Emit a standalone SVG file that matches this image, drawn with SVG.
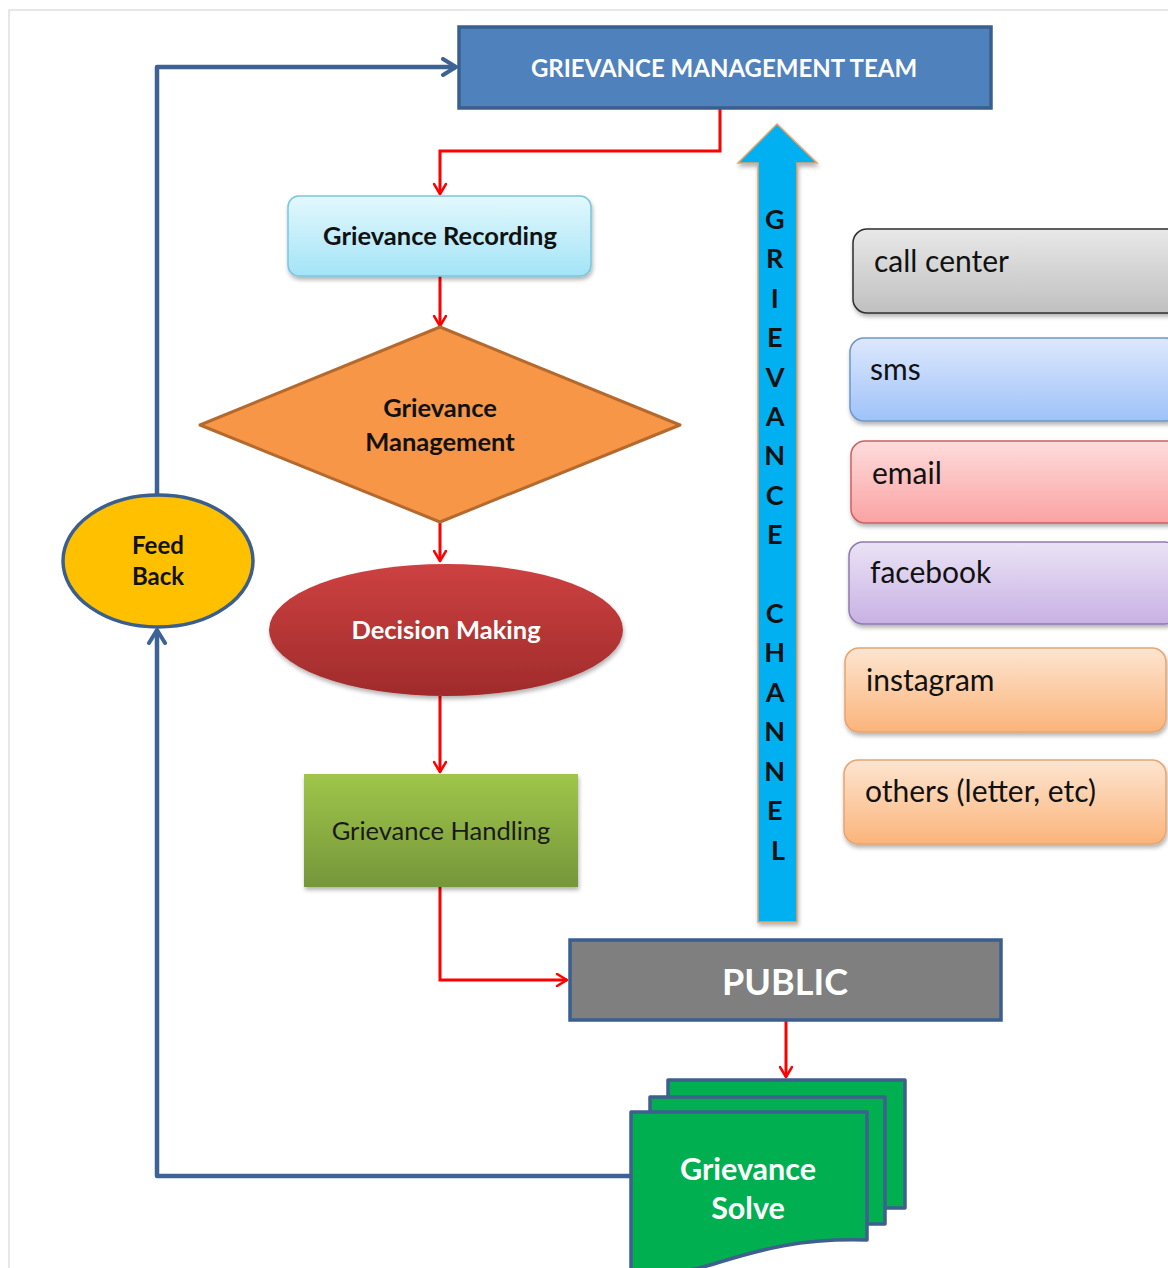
<svg xmlns="http://www.w3.org/2000/svg" width="1168" height="1268" viewBox="0 0 1168 1268">
  <defs>
    <linearGradient id="gRec" x1="0" y1="0" x2="0" y2="1">
      <stop offset="0" stop-color="#e3f8fd"/>
      <stop offset="1" stop-color="#a3e4f7"/>
    </linearGradient>
    <linearGradient id="gDec" x1="0" y1="0" x2="0" y2="1">
      <stop offset="0" stop-color="#cd4141"/>
      <stop offset="1" stop-color="#a02b2b"/>
    </linearGradient>
    <linearGradient id="gHand" x1="0" y1="0" x2="0" y2="1">
      <stop offset="0" stop-color="#9fc64a"/>
      <stop offset="1" stop-color="#76963a"/>
    </linearGradient>
    <linearGradient id="gCall" x1="0" y1="0" x2="0" y2="1">
      <stop offset="0" stop-color="#e8e8e8"/>
      <stop offset="1" stop-color="#c0c0c0"/>
    </linearGradient>
    <linearGradient id="gSms" x1="0" y1="0" x2="0" y2="1">
      <stop offset="0" stop-color="#dde8fc"/>
      <stop offset="1" stop-color="#9ec2f9"/>
    </linearGradient>
    <linearGradient id="gMail" x1="0" y1="0" x2="0" y2="1">
      <stop offset="0" stop-color="#fddcdc"/>
      <stop offset="1" stop-color="#fba2a2"/>
    </linearGradient>
    <linearGradient id="gFb" x1="0" y1="0" x2="0" y2="1">
      <stop offset="0" stop-color="#ebe3f5"/>
      <stop offset="1" stop-color="#c8b1e4"/>
    </linearGradient>
    <linearGradient id="gOr" x1="0" y1="0" x2="0" y2="1">
      <stop offset="0" stop-color="#fde5d0"/>
      <stop offset="1" stop-color="#fbb47a"/>
    </linearGradient>
    <filter id="shadow" x="-10%" y="-10%" width="130%" height="140%">
      <feDropShadow dx="1" dy="3" stdDeviation="2" flood-color="#000" flood-opacity="0.3"/>
    </filter>
    <marker id="arrRed" viewBox="0 0 14 14" refX="12" refY="7" markerWidth="14" markerHeight="14" markerUnits="userSpaceOnUse" orient="auto">
      <path d="M2,1 L12,7 L2,13" fill="none" stroke="#ff0000" stroke-width="2.5" stroke-linecap="round" stroke-linejoin="round"/>
    </marker>
    <marker id="arrBlue" viewBox="0 0 20 20" refX="17" refY="10" markerWidth="20" markerHeight="20" markerUnits="userSpaceOnUse" orient="auto">
      <path d="M4,2 L17,10 L4,18" fill="none" stroke="#3d6396" stroke-width="4" stroke-linecap="round" stroke-linejoin="round"/>
    </marker>
  </defs>
  <style>
    text { font-family: Lato, "Open Sans", "Liberation Sans", sans-serif; }
    .bold { font-weight: bold; }
    .red { fill: none; stroke: #ff0000; stroke-width: 3; }
    .blue { fill: none; stroke: #3d6396; stroke-width: 4.5; stroke-linejoin: round; }
    .chan { stroke-width: 1.5; filter: url(#shadow); }
    .chanTxt { font-size: 30px; fill: #111; }
    .doc { fill: #00b050; stroke: #3f5f8f; stroke-width: 3.5; stroke-linejoin: round; }
  </style>

  <rect width="1168" height="1268" fill="#ffffff"/>
  <!-- page frame -->
  <path d="M9,1268 V10 H1168" fill="none" stroke="#e0e0e0" stroke-width="1.5"/>

  <!-- connectors -->
  <g id="connectors">
    <path class="red" d="M720,108 V151 H440 V194" marker-end="url(#arrRed)"/>
    <path class="red" d="M440,276 V326" marker-end="url(#arrRed)"/>
    <path class="red" d="M440,522 V561" marker-end="url(#arrRed)"/>
    <path class="red" d="M440,696 V772" marker-end="url(#arrRed)"/>
    <path class="red" d="M440,887 V980 H567" marker-end="url(#arrRed)"/>
    <path class="red" d="M786,1020 V1077" marker-end="url(#arrRed)"/>
    <path class="blue" d="M632,1176 H157 V630" marker-end="url(#arrBlue)"/>
    <path class="blue" d="M157,495 V67 H456" marker-end="url(#arrBlue)"/>
  </g>

  <!-- management team -->
  <g id="team">
    <rect x="459" y="27" width="532" height="81" fill="#4f81bd" stroke="#3a5f8f" stroke-width="3.5"/>
    <text x="724" y="77" text-anchor="middle" class="bold" font-size="24" fill="#fff">GRIEVANCE MANAGEMENT TEAM</text>
  </g>

  <!-- recording -->
  <g id="recording">
    <rect x="288" y="196" width="303" height="80" rx="11" fill="url(#gRec)" stroke="#79c6dd" stroke-width="1.5" filter="url(#shadow)"/>
    <text x="440" y="245" text-anchor="middle" class="bold" font-size="25.5" fill="#111">Grievance Recording</text>
  </g>

  <!-- management decision -->
  <g id="management">
    <polygon points="440,327 680,425 440,522 200,425" fill="#f79646" stroke="#b46a2e" stroke-width="3" stroke-linejoin="round"/>
    <text x="440" y="417" text-anchor="middle" class="bold" font-size="25.5" fill="#111">Grievance</text>
    <text x="440" y="451" text-anchor="middle" class="bold" font-size="25.5" fill="#111">Management</text>
  </g>

  <!-- decision making -->
  <g id="decision">
    <ellipse cx="446" cy="630" rx="177" ry="66" fill="url(#gDec)" filter="url(#shadow)"/>
    <text x="446" y="639" text-anchor="middle" class="bold" font-size="25.5" fill="#fff">Decision Making</text>
  </g>

  <!-- handling -->
  <g id="handling">
    <rect x="304" y="774" width="274" height="113" fill="url(#gHand)" filter="url(#shadow)"/>
    <text x="441" y="840" text-anchor="middle" font-size="25.5" fill="#1a1a1a">Grievance Handling</text>
  </g>

  <!-- public -->
  <g id="public">
    <rect x="570" y="940" width="431" height="80" fill="#7f7f7f" stroke="#3a5f8f" stroke-width="3.5"/>
    <text x="785" y="995" text-anchor="middle" class="bold" font-size="36" fill="#fff">PUBLIC</text>
  </g>

  <!-- grievance solve (multi document) -->
  <g id="solve">
    <rect class="doc" x="668" y="1080" width="237" height="128"/>
    <rect class="doc" x="650" y="1097" width="235" height="127"/>
    <path class="doc" d="M631,1112 H867 V1240 C800,1238 760,1250 720,1262 C690,1272 660,1276 631,1272 Z"/>
    <text x="748" y="1180" text-anchor="middle" class="bold" font-size="30.5" fill="#fff">Grievance</text>
    <text x="748" y="1219" text-anchor="middle" class="bold" font-size="30.5" fill="#fff">Solve</text>
  </g>

  <!-- feedback -->
  <g id="feedback">
    <ellipse cx="158" cy="561" rx="95" ry="66" fill="#ffc000" stroke="#3a5f8f" stroke-width="3.5"/>
    <text x="158" y="554" text-anchor="middle" class="bold" font-size="24" fill="#111">Feed</text>
    <text x="158" y="585" text-anchor="middle" class="bold" font-size="24" fill="#111">Back</text>
  </g>

  <!-- grievance channel arrow -->
  <g id="channel">
    <path d="M777,124 L817,163 H797 V922 H758 V163 H738 Z" fill="#00b0f0" stroke="#e8a36a" stroke-width="1.5" stroke-linejoin="miter" filter="url(#shadow)"/>
    <text text-anchor="middle" class="bold" font-size="27" fill="#111">
      <tspan x="778" y="229">G</tspan>
      <tspan x="778" y="268">R</tspan>
      <tspan x="778" y="308">I</tspan>
      <tspan x="778" y="347">E</tspan>
      <tspan x="778" y="387">V</tspan>
      <tspan x="778" y="426">A</tspan>
      <tspan x="778" y="465">N</tspan>
      <tspan x="778" y="505">C</tspan>
      <tspan x="778" y="544">E</tspan>
      <tspan x="778" y="623">C</tspan>
      <tspan x="778" y="662">H</tspan>
      <tspan x="778" y="702">A</tspan>
      <tspan x="778" y="741">N</tspan>
      <tspan x="778" y="781">N</tspan>
      <tspan x="778" y="820">E</tspan>
      <tspan x="778" y="860">L</tspan>
    </text>
  </g>

  <!-- channel list -->
  <g id="call-center">
    <rect class="chan" x="853" y="229" width="330" height="84" rx="14" fill="url(#gCall)" stroke="#2e2e2e"/>
    <text class="chanTxt" x="874" y="272">call center</text>
  </g>
  <g id="sms">
    <rect class="chan" x="850" y="338" width="330" height="83" rx="14" fill="url(#gSms)" stroke="#6e96c9"/>
    <text class="chanTxt" x="870" y="380">sms</text>
  </g>
  <g id="email">
    <rect class="chan" x="851" y="441" width="330" height="82" rx="14" fill="url(#gMail)" stroke="#c96262"/>
    <text class="chanTxt" x="872" y="484">email</text>
  </g>
  <g id="facebook">
    <rect class="chan" x="849" y="542" width="330" height="82" rx="14" fill="url(#gFb)" stroke="#9079ae"/>
    <text class="chanTxt" x="870" y="583">facebook</text>
  </g>
  <g id="instagram">
    <rect class="chan" x="845" y="648" width="321" height="84" rx="14" fill="url(#gOr)" stroke="#e6a470"/>
    <text class="chanTxt" x="866" y="691">instagram</text>
  </g>
  <g id="others">
    <rect class="chan" x="844" y="760" width="322" height="84" rx="14" fill="url(#gOr)" stroke="#e6a470"/>
    <text class="chanTxt" x="865" y="802">others (letter, etc)</text>
  </g>
</svg>
